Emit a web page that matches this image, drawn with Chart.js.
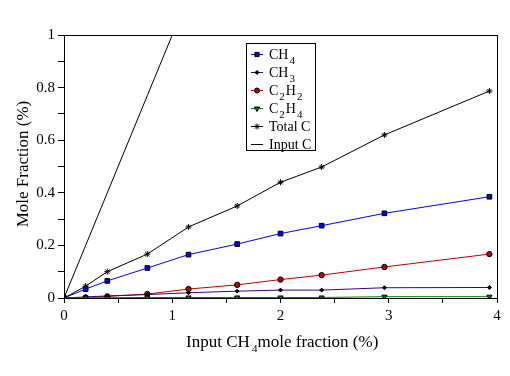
<!DOCTYPE html>
<html><head><meta charset="utf-8">
<script src="https://cdn.jsdelivr.net/npm/chart.js@4/dist/chart.umd.min.js"></script>
<style>html,body{margin:0;padding:0;background:#fff;}#wrap{width:510px;height:376px;}</style>
</head><body><div id="wrap"><canvas id="c" width="510" height="376"></canvas></div>
<script>
const inputX = [0, 0.2, 0.4, 0.77, 1.15, 1.6, 2.0, 2.38, 2.96, 3.93];
const ch4    = [0, 0.034, 0.065, 0.114, 0.165, 0.205, 0.245, 0.275, 0.322, 0.385];
const ch3    = [0, 0.004, 0.008, 0.013, 0.02, 0.026, 0.03, 0.03, 0.039, 0.04];
const c2h2   = [0, 0.002, 0.006, 0.015, 0.034, 0.05, 0.07, 0.087, 0.118, 0.167];
const c2h4   = [0, 0.001, 0.001, 0.002, 0.002, 0.002, 0.002, 0.002, 0.005, 0.005];
const totalC = [0, 0.045, 0.1, 0.167, 0.27, 0.35, 0.44, 0.498, 0.62, 0.787];
const inputC = [0, 0.2, 0.4, 0.77, 1.15, 1.6, 2.0, 2.38, 2.96, 3.93];
const xTicks = [0, 1, 2, 3, 4];
const yTicks = [0, 0.2, 0.4, 0.6, 0.8, 1];

const FONT = "'Liberation Serif', 'Times New Roman', serif";
function pts(ys){ return inputX.map((x,i)=>({x:x, y:ys[i]})); }

const legendItems = [
  {main:'CH', sub:'4', line:'#0000ff', style:'rect', fill:'#0000ff', r:3},
  {main:'CH', sub:'3', line:'#400080', style:'rectRot', fill:'#000', r:2},
  {main:'C', sub:'2', main2:'H', sub2:'2', line:'#c00000', style:'circle', fill:'#c00000', r:2.5},
  {main:'C', sub:'2', main2:'H', sub2:'4', line:'#008000', style:'triangle', rot:180, fill:'#008000', r:3},
  {main:'Total C', line:'#000', style:'star', fill:'#000', r:3},
  {main:'Input C', line:'#000', style:null}
];

const custom = {
  id:'custom',
  afterDraw(chart){
    const ctx = chart.ctx, a = chart.chartArea;
    ctx.save();
    ctx.strokeStyle='#000'; ctx.lineWidth=1;
    ctx.strokeRect(a.left+0.5, a.top+0.5, a.right-a.left, a.bottom-a.top);
    // legend
    ctx.fillStyle='#fff';
    ctx.fillRect(246,43,69,107);
    ctx.strokeRect(246.5,43.5,69,107);
    const ys=[54,72,90,108,126,144];
    ctx.textBaseline='alphabetic';
    legendItems.forEach((it,i)=>{
      const y=ys[i];
      ctx.strokeStyle=it.line; ctx.lineWidth=1;
      ctx.beginPath(); ctx.moveTo(251,y+0.5); ctx.lineTo(263,y+0.5); ctx.stroke();
      if(it.style){
        ctx.fillStyle=it.fill; ctx.strokeStyle='#000';
        Chart.helpers.drawPoint(ctx,{pointStyle:it.style,radius:it.r,rotation:it.rot||0,borderWidth:1},257,y+0.5);
      }
      ctx.fillStyle='#000';
      let x=269; const base=y+5;
      ctx.font='14px '+FONT;
      ctx.fillText(it.main,x,base); x+=ctx.measureText(it.main).width;
      if(it.sub){ ctx.font='11px '+FONT; ctx.fillText(it.sub,x+1,base+5); x+=ctx.measureText(it.sub).width+2; }
      if(it.main2){ ctx.font='14px '+FONT; ctx.fillText(it.main2,x,base); x+=ctx.measureText(it.main2).width;
        ctx.font='11px '+FONT; ctx.fillText(it.sub2,x+1,base+5); }
    });
    // x title
    ctx.fillStyle='#000';
    let x=186; const b=347;
    ctx.font='17px '+FONT;
    ctx.fillText('Input CH ',x,b); x+=ctx.measureText('Input CH ').width;
    ctx.font='11px '+FONT;
    ctx.fillText('4',x-2,b+5); x+=ctx.measureText('4').width-2;
    ctx.font='17px '+FONT;
    ctx.fillText('mole fraction (%)',x,b);
    // y title
    ctx.translate(28,164); ctx.rotate(-Math.PI/2);
    ctx.textAlign='center';
    ctx.fillText('Mole Fraction (%)',0,0);
    ctx.restore();
  }
};

function ds(label,data,color,style,fill,r,rot){
  return {label, data:pts(data), borderColor:color, backgroundColor:fill, borderWidth:1,
    pointStyle:style||false, pointRadius:style?r:0, pointBorderColor:'#000', pointBorderWidth:1,
    pointBackgroundColor:fill, pointRotation:rot||0, tension:0, fill:false};
}

new Chart(document.getElementById('c'),{
  type:'line',
  data:{datasets:[
    ds('Input C',inputC,'#000',null,'#000',0),
    ds('C2H4',c2h4,'#008000','triangle','#008000',3,180),
    ds('CH3',ch3,'#400080','rectRot','#000',2),
    ds('C2H2',c2h2,'#c00000','circle','#c00000',2.7),
    ds('CH4',ch4,'#0000ff','rect','#0000ff',3.3),
    ds('Total C',totalC,'#000','star','#000',3)
  ]},
  options:{
    responsive:false, animation:false, devicePixelRatio:1,
    layout:{padding:{left:0,top:35,right:13,bottom:0}},
    plugins:{legend:{display:false},tooltip:{enabled:false}},
    scales:{
      x:{type:'linear',min:0,max:4,
        afterBuildTicks(s){ const t=[]; for(let v=0;v<=8;v++) t.push({value:v/2}); s.ticks=t; },
        afterFit(s){ s.height=78; },
        grid:{display:true,drawOnChartArea:false,drawTicks:true,tickLength:5,color:'#000'},
        border:{display:true,color:'#000'},
        ticks:{color:'#000',font:{family:FONT,size:15},padding:4,maxRotation:0,autoSkip:false,
          callback(v){ return xTicks.includes(v)? String(v):''; }}
      },
      y:{type:'linear',min:0,max:1,
        afterBuildTicks(s){ const t=[]; for(let v=0;v<=10;v++) t.push({value:v/10}); s.ticks=t; },
        afterFit(s){ s.width=64; },
        grid:{display:true,drawOnChartArea:false,drawTicks:true,tickLength:6,color:'#000'},
        border:{display:true,color:'#000'},
        ticks:{color:'#000',font:{family:FONT,size:15},padding:3,autoSkip:false,
          callback(v){ const r=Math.round(v*10)/10; return yTicks.some(t=>Math.abs(t-r)<1e-9)? String(r):''; }}
      }
    }
  },
  plugins:[custom]
});
</script>
</body></html>
